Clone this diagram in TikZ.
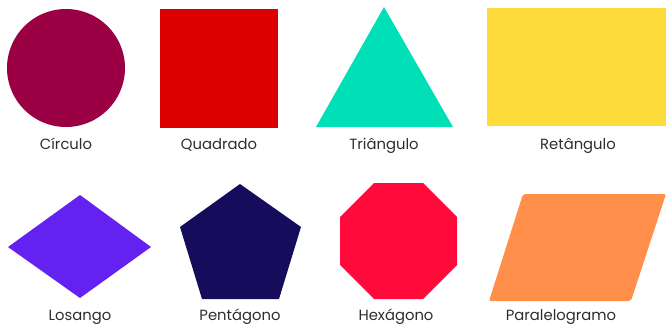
\documentclass[tikz,border=0pt]{standalone}
\usepackage{fontspec}
\setmainfont{Poppins}
\usepackage{tikz}
\definecolor{wine}{RGB}{155,0,68}
\definecolor{squareRed}{RGB}{221,0,0}
\definecolor{mint}{RGB}{0,224,182}
\definecolor{sunYellow}{RGB}{253,219,58}
\definecolor{violet}{RGB}{100,34,240}
\definecolor{navy}{RGB}{22,12,92}
\definecolor{stopRed}{RGB}{255,10,58}
\definecolor{peach}{RGB}{255,143,74}
\definecolor{textGray}{RGB}{45,45,45}

\begin{document}
\begin{tikzpicture}[x=1pt, y=-1pt, every node/.style={font=\fontsize{14.8}{17}\selectfont, text=textGray, inner sep=0pt, anchor=base}]
        \useasboundingbox (0,0) rectangle (667,324);
        % first row
        \fill[wine] (66,68) circle (59);
        \fill[squareRed] (160,9) rectangle (278,128);
        \fill[mint] (384,7) -- (453,127) -- (316,127) -- cycle;
        \fill[sunYellow] (487,8) rectangle (666,126);
        \node (circulo) at (66,149) {Círculo};
        \node (quadrado) at (219,149) {Quadrado};
        \node (triangulo) at (384,149) {Triângulo};
        \node (retangulo) at (578,149) {Retângulo};
        % second row
        \fill[violet] (8,247) -- (80,195) -- (151,247) -- (80,298) -- cycle;
        \fill[navy] (240,184) -- (301,227) -- (279,299) -- (202,299) -- (180,227) -- cycle;
        \fill[stopRed] (374,183) -- (423,183) -- (457,217) -- (457,265) -- (423,299) -- (374,299) -- (340,265) -- (340,217) -- cycle;
        \fill[peach, rounded corners=2pt] (523,194) -- (666,194) -- (631,301) -- (489,301) -- cycle;
        \node (losango) at (80,320) {Losango};
        \node (pentagono) at (240,320) {Pentágono};
        \node (hexagono) at (396,320) {Hexágono};
        \node (paralelogramo) at (561,320) {Paralelogramo};
    \end{tikzpicture}
\end{document}
